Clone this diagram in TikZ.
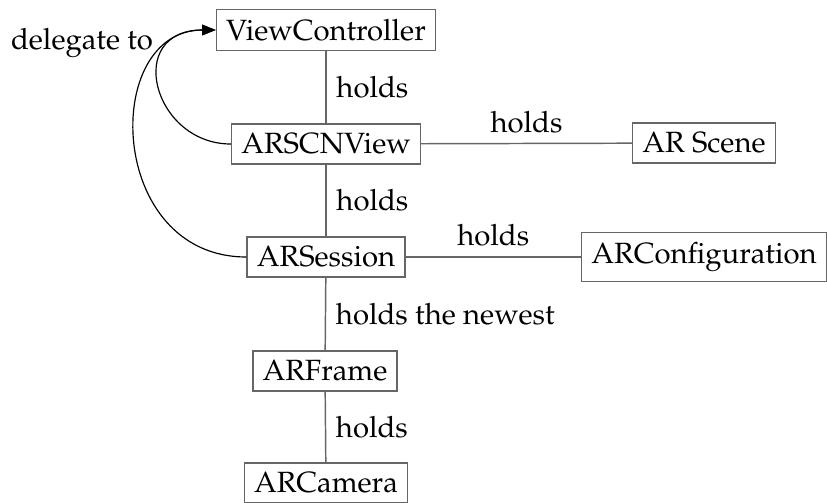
\documentclass[tikz,border=0pt]{standalone}
\usepackage[T1]{fontenc}
\usepackage{mathpazo}
\usetikzlibrary{arrows.meta}
\definecolor{boxgray}{gray}{0.4}
\begin{document}
\begin{tikzpicture}[x=0.3413pt,y=-0.3413pt,
  box/.style={draw=boxgray, line width=0.5pt, inner sep=0.333em},
  link/.style={draw=boxgray, line width=0.5pt},
  lbl/.style={inner sep=0.333em, text=black},
  deleg/.style={draw=black, line width=0.4pt, -{Triangle[length=4.6pt,width=3.6pt]}}]
  \useasboundingbox (0,0) rectangle (827,503);

  % object boxes
  \node[box] (vc)    at (326,30)  {ViewController};
  \node[box] (scn)   at (326,144) {ARSCNView};
  \node[box] (scene) at (704,143) {AR Scene};
  \node[box] (sess)  at (326,257) {ARSession};
  \node[box] (conf)  at (704,257) {ARConfiguration};
  \node[box] (frame) at (325,371) {ARFrame};
  \node[box] (cam)   at (326,483) {ARCamera};

  % ownership links
  \draw[link] (vc) -- node[lbl, right] {holds} (scn);
  \draw[link] (scn) -- node[lbl, above] {holds} (scene);
  \draw[link] (scn) -- node[lbl, right] {holds} (sess);
  \draw[link] (sess) -- node[lbl, above] {holds} (conf);
  \draw[link] (sess) -- node[lbl, right] {holds the newest} (frame);
  \draw[link] (frame) -- node[lbl, right] {holds} (cam);

  % delegation arcs back to the view controller
  \draw[deleg] (scn.west) .. controls +(-78,0) and +(-92,0) .. (vc.west);
  \draw[deleg] (sess.west) .. controls +(-140,0) and +(-115,0) .. (vc.west);
  \node[lbl] (dlg) at (82,43.5) {delegate to};
\end{tikzpicture}
\end{document}
